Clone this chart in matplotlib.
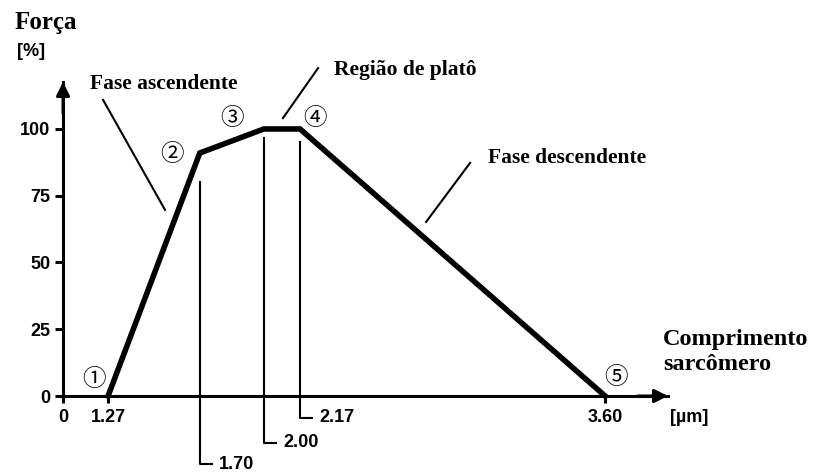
import numpy as np
import matplotlib
matplotlib.use("Agg")
import matplotlib.pyplot as plt

# curva força-comprimento do sarcômero
comprimento = [1.27, 1.70, 2.00, 2.17, 3.60]
forca = [0, 91, 100, 100, 0]
pontos = ["①", "②", "③", "④", "⑤"]

y_ticks = [0, 25, 50, 75, 100]
x_ticks = [0, 1.27, 3.60]
x_ticks_lbl = ["0", "1.27", "3.60"]

# linhas de referência (x, topo, fundo)
ref_x = [1.70, 2.00, 2.17]
ref_lbl = ["1.70", "2.00", "2.17"]
ref_top = [80, 96.5, 95]
ref_bottom = [-25.5, -17.5, -8.2]

SERIF = "Liberation Serif"
SANS = "Liberation Sans"
CIRC = ["Noto Sans CJK JP", "DejaVu Sans"]

# eixo x quebrado: trecho 0 .. 1.27 comprimido
K = 0.1662
def fwd(x):
    x = np.asarray(x, dtype=float)
    return np.where(x < 1.27, 1.27 - (1.27 - x) * K, x)

def inv(x):
    x = np.asarray(x, dtype=float)
    return np.where(x < 1.27, 1.27 - (1.27 - x) / K, x)


fig = plt.figure(figsize=(8.23, 4.75), dpi=100)
ax = fig.add_axes([0.0766, 0.1663, 0.7351, 0.6611])
ax.set_xscale("function", functions=(fwd, inv))
ax.set_xlim(0, 3.895)
ax.set_ylim(0, 117.6)

for s in ["top", "right"]:
    ax.spines[s].set_visible(False)
for s in ["left", "bottom"]:
    ax.spines[s].set_linewidth(2.2)

# setas dos eixos
ax.annotate("", xy=(0, 1), xytext=(0, 0.9), xycoords="axes fraction",
            arrowprops=dict(arrowstyle="-|>", color="black", lw=2.2,
                            mutation_scale=20, shrinkA=0, shrinkB=0))
ax.annotate("", xy=(1, 0), xytext=(0.95, 0), xycoords="axes fraction",
            arrowprops=dict(arrowstyle="-|>", color="black", lw=2.2,
                            mutation_scale=20, shrinkA=0, shrinkB=0))

ax.set_yticks(y_ticks)
ax.set_yticklabels([str(v) for v in y_ticks], fontfamily=SANS,
                   fontweight="bold", fontsize=13)
ax.tick_params(axis="y", length=6, width=2.2, pad=3)
ax.set_xticks(x_ticks)
ax.set_xticklabels(x_ticks_lbl, fontfamily=SANS, fontweight="bold", fontsize=13)
ax.tick_params(axis="x", length=5, width=2.2, pad=4)
ax.minorticks_off()

# curva
ax.plot(comprimento, forca, color="black", lw=4, solid_joinstyle="miter",
        clip_on=False, zorder=5)

# linhas verticais com gancho e rótulo
for x, lbl, top, bot in zip(ref_x, ref_lbl, ref_top, ref_bottom):
    ax.plot([x, x, x + 0.055], [top, bot, bot], color="black", lw=1.5,
            clip_on=False)
    ax.text(x + 0.09, bot, lbl, fontfamily=SANS, fontweight="bold",
            fontsize=13, ha="left", va="center")

# números circulados
pos_num = [(0.88, 6.0), (1.57, 90.5), (1.85, 104), (2.24, 104), (3.65, 7.0)]
for s, (x, y) in zip(pontos, pos_num):
    ax.text(x, y, s, family=CIRC, fontsize=17, ha="center", va="center")

# anotações das fases
ax.plot([1.129, 1.537], [110.9, 69.7], color="black", lw=1.5, clip_on=False)
ax.text(0.76, 117.0, "Fase ascendente", fontfamily=SERIF, fontweight="bold",
        fontsize=15.5, ha="left", va="center")

ax.plot([2.2545, 2.090], [122.8, 104.1], color="black", lw=1.5, clip_on=False)
ax.text(2.33, 122.0, "Região de platô", fontfamily=SERIF, fontweight="bold",
        fontsize=15.5, ha="left", va="center")

ax.plot([2.967, 2.761], [87.3, 65.2], color="black", lw=1.5, clip_on=False)
ax.text(3.05, 89.0, "Fase descendente", fontfamily=SERIF, fontweight="bold",
        fontsize=15.5, ha="left", va="center")

# títulos dos eixos
fig.text(15 / 823, 1 - 22 / 475, "Força", fontfamily=SERIF, fontweight="bold",
         fontsize=18, ha="left", va="center")
fig.text(17 / 823, 1 - 52 / 475, "[%]", fontfamily=SANS, fontweight="bold",
         fontsize=13, ha="left", va="center")
fig.text(663 / 823, 1 - 340 / 475, "Comprimento", fontfamily=SERIF,
         fontweight="bold", fontsize=17.5, ha="left", va="center")
fig.text(663 / 823, 1 - 364 / 475, "sarcômero", fontfamily=SERIF,
         fontweight="bold", fontsize=17.5, ha="left", va="center")
fig.text(670 / 823, 1 - 417 / 475, "[µm]", fontfamily=SANS, fontweight="bold",
         fontsize=13, ha="left", va="center")

fig.savefig("out.png", dpi=100, facecolor="white")
